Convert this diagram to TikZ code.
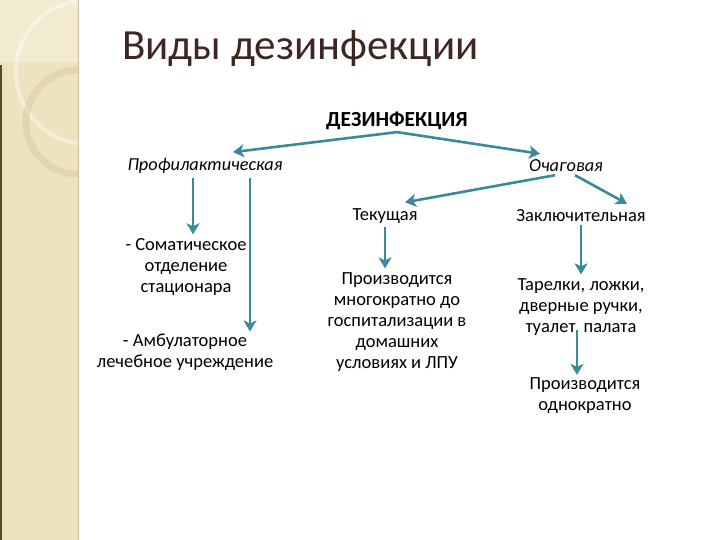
\documentclass[tikz,border=0pt]{standalone}
\usepackage{fontspec}
\setmainfont{Carlito}
\usetikzlibrary{positioning,arrows.meta}
\definecolor{stripbeige}{HTML}{EDE3BF}
\definecolor{stripedge}{HTML}{CBBD9C}
\definecolor{stripdark}{HTML}{5B4A2E}
\definecolor{titlebrown}{HTML}{3E2723}
\definecolor{flowteal}{HTML}{3A8A9B}
\tikzset{
  lbl/.style  = {inner sep=0pt, align=center, font=\fontsize{18.5}{21}\selectfont},
  kind/.style = {inner sep=0pt, font=\fontsize{18.3}{20}\selectfont\itshape},
  flow/.style = {-{Stealth[length=11pt, width=13pt, inset=3pt]}, line width=2.6pt, draw=flowteal},
}

\begin{document}
\begin{tikzpicture}[x=1pt, y=-1pt]
  \useasboundingbox (0,0) rectangle (720,540);

  % side strip
  \fill[stripbeige] (0,0) rectangle (78,540);
  \begin{scope}
    \clip (0,0) rectangle (78,540);
    \fill[white, opacity=0.3] (0,0) rectangle (78,62);
    \draw[white, opacity=0.4, line width=4pt] (88,72) circle (72);
    \draw[stripedge, opacity=0.35, line width=7pt] (78,122) circle (52);
  \end{scope}
  \draw[stripedge, line width=1.5pt] (78.5,0) -- (78.5,540);
  \draw[stripdark, line width=1.5pt] (0.75,65) -- (0.75,540);

  \node[anchor=base west, inner sep=0pt, text=titlebrown, font=\fontsize{43}{45}\selectfont] (title) at (122,60) {Виды дезинфекции};

  \node[inner sep=0pt, font=\fontsize{21.5}{24}\selectfont\bfseries] (root) at (397,121) {ДЕЗИНФЕКЦИЯ};
  \node[kind] (prof)  at (205,166) {Профилактическая};
  \node[kind] (ochag) at (566,166) {Очаговая};
  \node[lbl] (tekush) at (385,216) {Текущая};
  \node[lbl] (zakl)   at (581,216) {Заключительная};

  \node[lbl] (somat)    at (186,267) {- Соматическое\\отделение\\стационара};
  \node[lbl] (ambul)    at (185,352) {- Амбулаторное\\лечебное учреждение};
  \node[lbl] (tekdesc)  at (397,322) {Производится\\многократно до\\госпитализации в\\домашних\\условиях и ЛПУ};
  \node[lbl] (zakldesc) at (581,307) {Тарелки, ложки,\\дверные ручки,\\туалет, палата};
  \node[lbl] (once)     at (585,396) {Производится\\однократно};

  \draw[flow] ([yshift=-2pt]root.south) -- ([xshift=28pt, yshift=6pt]prof.north);
  \draw[flow] ([yshift=-2pt]root.south) -- ([xshift=-26pt, yshift=6pt]ochag.north);
  \draw[flow] ([xshift=-11pt, yshift=-3pt]ochag.south) -- ([xshift=20pt, yshift=6pt]tekush.north);
  \draw[flow] ([xshift=9pt, yshift=-3pt]ochag.south) -- ([xshift=46pt, yshift=6pt]zakl.north);

  \draw[flow] ([xshift=-12pt, yshift=-4pt]prof.south) -- ([xshift=7pt, yshift=4pt]somat.north);
  \draw[flow] ([xshift=45pt, yshift=-4pt]prof.south) -- ([xshift=65pt, yshift=2pt]ambul.north);
  \draw[flow] ([yshift=-3pt]tekush.south) -- ([xshift=-12pt, yshift=4pt]tekdesc.north);
  \draw[flow] ([yshift=-3pt]zakl.south) -- ([yshift=4pt]zakldesc.north);
  \draw[flow] ([xshift=-4pt, yshift=6pt]zakldesc.south) -- ([xshift=-8pt, yshift=3pt]once.north);
\end{tikzpicture}
\end{document}
